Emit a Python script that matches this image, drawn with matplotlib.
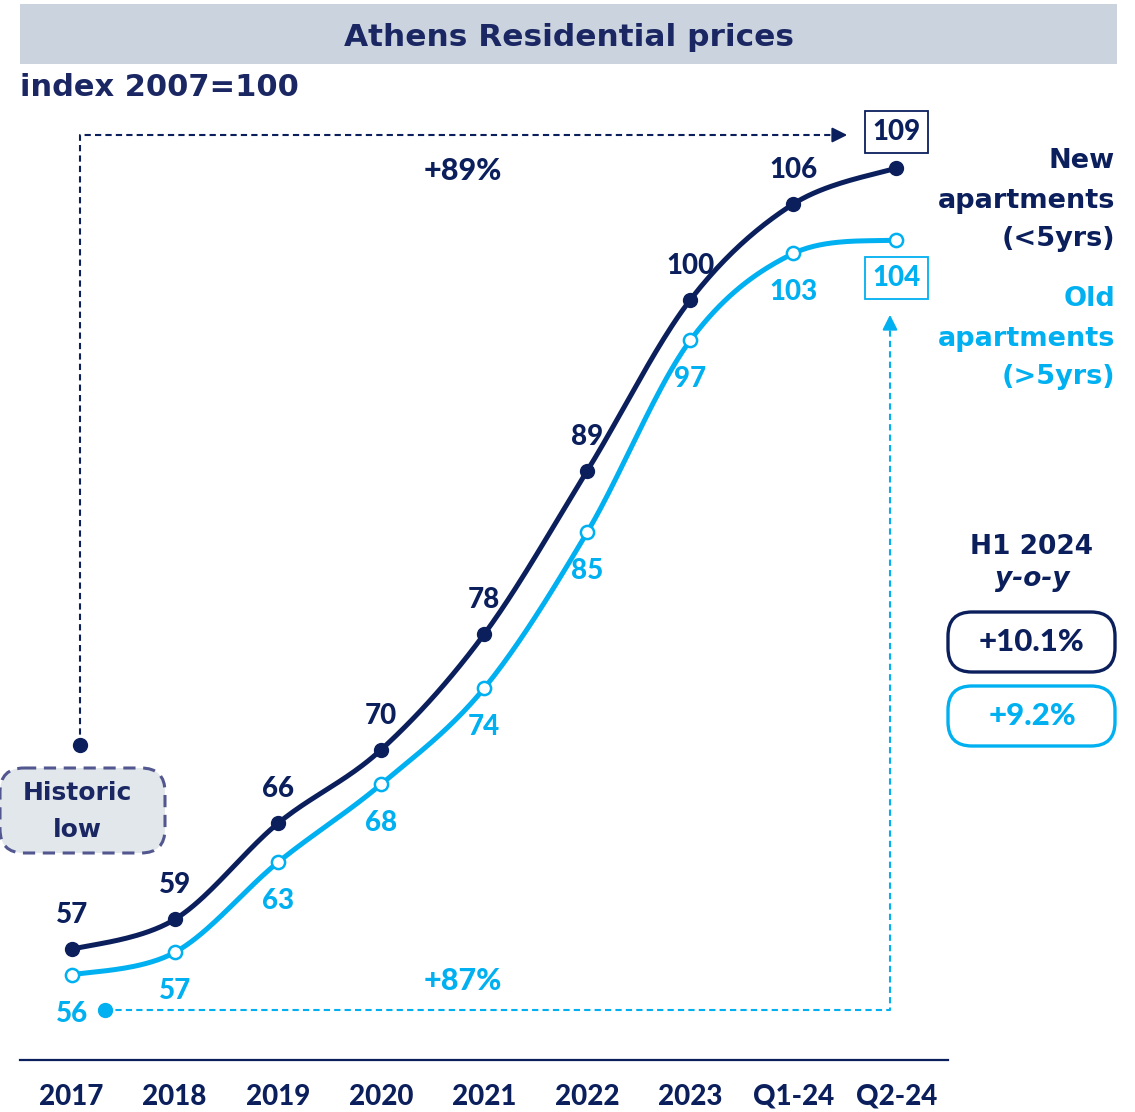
import numpy as np
import matplotlib.pyplot as plt
from matplotlib.patches import FancyBboxPatch, Rectangle

# chart data (index 2007=100)
periods = ["2017", "2018", "2019", "2020", "2021", "2022", "2023", "Q1-24", "Q2-24"]
new_apts = [56.9, 58.9, 65.3, 70.2, 77.9, 88.8, 100.2, 106.6, 109.0]
old_apts = [55.2, 56.7, 62.7, 67.9, 74.3, 84.7, 97.5, 103.3, 104.2]
new_labels = ["57", "59", "66", "70", "78", "89", "100", "106", "109"]
old_labels = ["56", "57", "63", "68", "74", "85", "97", "103", "104"]
change_new = "+89%"
change_old = "+87%"
yoy_new = "+10.1%"
yoy_old = "+9.2%"

NAVY = "#0B1F5C"
BLUE = "#00B0F0"
TITLE = "#1A2763"
W, H = 1135, 1112
NUM = ["Lato", "DejaVu Sans"]   # for figures
WORD = ["DejaVu Sans"]          # wider face for words
WT = 900

plt.rcParams["font.family"] = NUM
plt.rcParams["font.weight"] = "bold"


def smooth(x, y, n=40):
    # uniform catmull-rom, like the smoothed line of the original
    x = np.asarray(x, float)
    y = np.asarray(y, float)
    px = np.concatenate([[x[0]], x, [x[-1]]])
    py = np.concatenate([[y[0]], y, [y[-1]]])
    t = np.linspace(0, 1, n)
    xs, ys = [], []
    for i in range(1, len(px) - 2):
        for arr, out in ((px, xs), (py, ys)):
            p0, p1, p2, p3 = arr[i - 1], arr[i], arr[i + 1], arr[i + 2]
            c1 = p1 + (p2 - p0) / 6
            c2 = p2 - (p3 - p1) / 6
            out.extend((1 - t) ** 3 * p1 + 3 * (1 - t) ** 2 * t * c1 + 3 * (1 - t) * t ** 2 * c2 + t ** 3 * p2)
    return np.array(xs), np.array(ys)


fig = plt.figure(figsize=(W / 100, H / 100), dpi=100)

# overlay in pixel coords for the decorations
ov = fig.add_axes([0, 0, 1, 1], zorder=0)
ov.set_xlim(0, W)
ov.set_ylim(H, 0)
ov.axis("off")

# main chart axes
ax = fig.add_axes([20 / W, 52 / H, 928 / W, 960 / H], zorder=1)
ax.patch.set_alpha(0)
ax.set_xlim(-0.5, 8.5)
ax.set_ylim(49.53, 113.53)
for s in ["top", "left", "right"]:
    ax.spines[s].set_visible(False)
ax.spines["bottom"].set_color(NAVY)
ax.spines["bottom"].set_linewidth(1.6)
ax.set_yticks([])
x = np.arange(len(periods))
ax.set_xticks(x)
ax.set_xticklabels(periods, fontsize=20, fontweight=WT, color=NAVY)
ax.tick_params(axis="x", length=0, pad=17)

sx, sy = smooth(x, new_apts)
ax.plot(sx, sy, color=NAVY, lw=3.6, solid_capstyle="round", clip_on=False)
sx, sy = smooth(x, old_apts)
ax.plot(sx, sy, color=BLUE, lw=3.6, solid_capstyle="round", clip_on=False)
ax.plot(x, new_apts, "o", ms=10, color=NAVY, clip_on=False, zorder=3)
ax.plot(x, old_apts, "o", ms=9.5, mfc="white", mec=BLUE, mew=1.8, clip_on=False, zorder=3)

for i in range(len(x) - 1):
    ax.annotate(new_labels[i], (x[i], new_apts[i]), xytext=(0, 24.5), textcoords="offset points",
                ha="center", va="center", fontsize=20, color=NAVY, fontweight=WT)
    ax.annotate(old_labels[i], (x[i], old_apts[i]), xytext=(0, -28), textcoords="offset points",
                ha="center", va="center", fontsize=20, color=BLUE, fontweight=WT)
ax.annotate(new_labels[-1], (x[-1], new_apts[-1]), xytext=(0, 26), textcoords="offset points",
            ha="center", va="center", fontsize=20, color=NAVY, fontweight=WT,
            bbox=dict(boxstyle="square,pad=0.28", fc="white", ec=NAVY, lw=1.3))
ax.annotate(old_labels[-1], (x[-1], old_apts[-1]), xytext=(0, -27.5), textcoords="offset points",
            ha="center", va="center", fontsize=20, color=BLUE, fontweight=WT,
            bbox=dict(boxstyle="square,pad=0.28", fc="white", ec=BLUE, lw=1.3))

# title banner
ov.add_patch(Rectangle((20, 4), 1097, 60, fc="#CBD3DE", ec="none"))
ov.text(569, 37, "Athens Residential prices", ha="center", va="center",
        fontsize=22.5, color=TITLE, fontweight="bold", family=WORD)
ov.text(20, 88, "index 2007=100", ha="left", va="center", fontsize=22,
        color=TITLE, fontweight="bold", family=WORD)

# +89% bracket (navy)
ov.plot([80, 80, 836], [745, 135, 135], color=NAVY, lw=1.5, ls=(0, (3, 2)))
ov.plot(80, 745, "o", ms=10, color=NAVY)
ov.annotate("", xy=(850, 135), xytext=(832, 135),
            arrowprops=dict(arrowstyle="-|>,head_length=0.9,head_width=0.45", color=NAVY, lw=1.5))
ov.text(463, 171, change_new, ha="center", va="center", fontsize=22, color=NAVY, fontweight=WT)

# +87% bracket (light blue)
ov.plot([105, 890, 890], [1010, 1010, 328], color=BLUE, lw=1.5, ls=(0, (3, 2)))
ov.plot(105, 1010, "o", ms=10, color=BLUE)
ov.annotate("", xy=(890, 312), xytext=(890, 332),
            arrowprops=dict(arrowstyle="-|>,head_length=0.9,head_width=0.45", color=BLUE, lw=1.5))
ov.text(463, 981, change_old, ha="center", va="center", fontsize=22, color=BLUE, fontweight=WT)

# historic low box
ov.add_patch(FancyBboxPatch((0, 768), 165, 85, boxstyle="round,pad=0,rounding_size=24",
                            fc="#E2E7EC", ec="#53578F", lw=2.2, ls=(0, (4, 2.5))))
ov.text(77, 793, "Historic", ha="center", va="center", fontsize=18, color=TITLE,
        fontweight="bold", family=WORD)
ov.text(77, 830, "low", ha="center", va="center", fontsize=18, color=TITLE,
        fontweight="bold", family=WORD)

# series names on the right
for txt, yb, col in [("New", 168, NAVY), ("apartments", 208, NAVY), ("(<5yrs)", 246, NAVY),
                     ("Old", 306, BLUE), ("apartments", 346, BLUE), ("(>5yrs)", 384, BLUE)]:
    ov.text(1115, yb, txt, ha="right", va="baseline", fontsize=19.5, color=col,
            fontweight="bold", family=WORD)

# H1 2024 y-o-y boxes
ov.text(1032, 554, "H1 2024", ha="center", va="baseline", fontsize=19, color=NAVY,
        fontweight="bold", family=WORD)
ov.text(1032, 586, "y-o-y", ha="center", va="baseline", fontsize=19, color=NAVY,
        fontweight="bold", fontstyle="italic", family=WORD)
ov.add_patch(FancyBboxPatch((948, 612), 167, 60, boxstyle="round,pad=0,rounding_size=24",
                            fc="white", ec=NAVY, lw=2.4))
ov.text(1032, 642, yoy_new, ha="center", va="center", fontsize=22.5, color=NAVY, fontweight=WT)
ov.add_patch(FancyBboxPatch((948, 686), 167, 60, boxstyle="round,pad=0,rounding_size=24",
                            fc="white", ec=BLUE, lw=2.4))
ov.text(1032, 716, yoy_old, ha="center", va="center", fontsize=22.5, color=BLUE, fontweight=WT)

fig.savefig("out.png", dpi=100)
